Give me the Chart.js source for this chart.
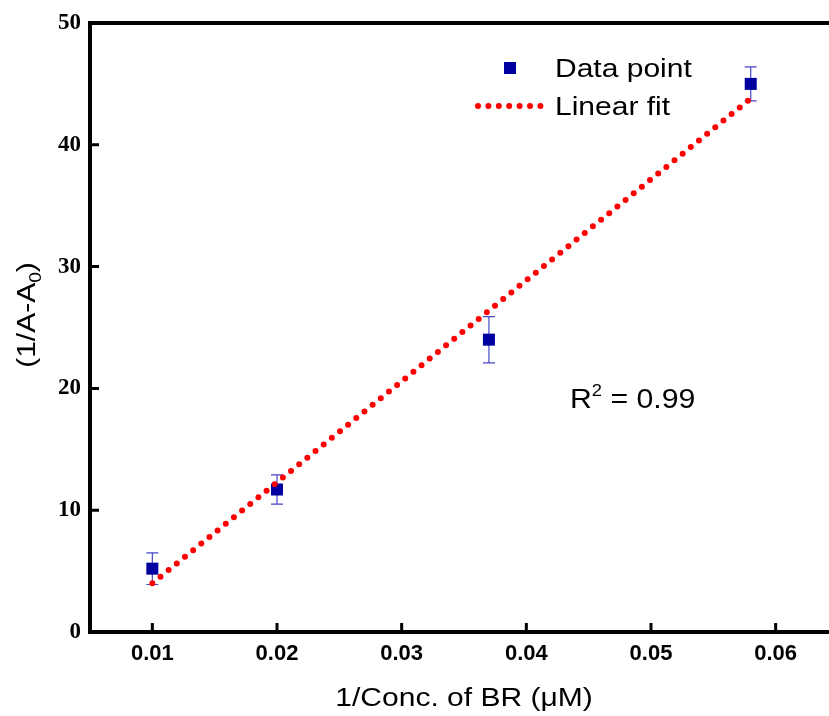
<!DOCTYPE html>
<html>
<head>
<meta charset="utf-8">
<script src="https://cdn.jsdelivr.net/npm/chart.js@4/dist/chart.umd.min.js"></script>
<style>
    html, body { margin: 0; padding: 0; background: #fff; overflow: hidden; }
    #wrap { width: 850px; height: 716px; position: relative; }
</style>
</head>
<body>
<div id="wrap"><canvas id="myChart"></canvas></div>
<script>
// values
const concX = [0.01, 0.02, 0.037, 0.058];
const absY = [5.2, 11.7, 24.0, 45.0];
const errY = [1.3, 1.2, 1.9, 1.4];
const fitX = [0.01, 0.058];
const fitY = [4.0, 43.8];
const xTicks = [0.01, 0.02, 0.03, 0.04, 0.05, 0.06];
const yTicks = [0, 10, 20, 30, 40, 50];

const SANS = '"Liberation Sans", Arial, sans-serif';
const SERIF = '"Liberation Serif", "Times New Roman", serif';

const pointColor = 'rgb(0, 0, 160)';
const errColor = 'rgb(70, 70, 200)';
const fitColor = 'rgb(255, 0, 0)';

function stretchText(ctx, text, x, y, sx, font) {
    ctx.save();
    ctx.font = font;
    ctx.translate(x, y);
    ctx.scale(sx, 1);
    ctx.textAlign = 'left';
    ctx.textBaseline = 'alphabetic';
    ctx.fillText(text, 0, 0);
    const w = ctx.measureText(text).width * sx;
    ctx.restore();
    return w;
}

const errorBars = {
    id: 'errorBars',
    beforeDatasetsDraw(chart) {
        const ctx = chart.ctx;
        const xs = chart.scales.x, ys = chart.scales.y;
        ctx.save();
        ctx.strokeStyle = errColor;
        ctx.lineWidth = 1.2;
        concX.forEach((cx, i) => {
            const px = xs.getPixelForValue(cx);
            const top = ys.getPixelForValue(absY[i] + errY[i]);
            const bot = ys.getPixelForValue(absY[i] - errY[i]);
            ctx.beginPath();
            ctx.moveTo(px, top); ctx.lineTo(px, bot);
            ctx.moveTo(px - 6, top); ctx.lineTo(px + 6, top);
            ctx.moveTo(px - 6, bot); ctx.lineTo(px + 6, bot);
            ctx.stroke();
        });
        ctx.restore();
    }
};

const frameAndText = {
    id: 'frameAndText',
    afterDraw(chart) {
        const ctx = chart.ctx;
        const area = chart.chartArea;
        const xs = chart.scales.x, ys = chart.scales.y;
        ctx.save();
        ctx.strokeStyle = '#000';
        ctx.lineWidth = 4;
        ctx.beginPath();
        ctx.moveTo(area.left - 2, area.top);
        ctx.lineTo(area.right, area.top);
        ctx.lineTo(area.right, area.bottom);
        ctx.stroke();

        // inward ticks
        ctx.lineWidth = 3;
        ctx.beginPath();
        xTicks.forEach((v) => {
            const px = xs.getPixelForValue(v);
            ctx.moveTo(px, area.bottom);
            ctx.lineTo(px, area.bottom - 9);
        });
        yTicks.forEach((v) => {
            const py = ys.getPixelForValue(v);
            ctx.moveTo(area.left, py);
            ctx.lineTo(area.left + 9, py);
        });
        ctx.stroke();

        ctx.fillStyle = '#000';
        // x axis title
        const xTitle = '1/Conc. of BR (\u03BCM)';
        ctx.font = '25px ' + SANS;
        const xw = ctx.measureText(xTitle).width * 1.2;
        stretchText(ctx, xTitle, (area.left + area.right) / 2 - xw / 2, 706, 1.2, '25px ' + SANS);

        // y axis title with subscript
        ctx.save();
        ctx.translate(35, 315);
        ctx.rotate(-Math.PI / 2);
        ctx.font = '25px ' + SANS;
        const p1 = '(1/A-A', p2 = '0', p3 = ')';
        const w1 = ctx.measureText(p1).width * 1.2;
        ctx.font = '16px ' + SANS;
        const w2 = ctx.measureText(p2).width * 1.2;
        ctx.font = '25px ' + SANS;
        const w3 = ctx.measureText(p3).width * 1.2;
        let x0 = -(w1 + w2 + w3) / 2;
        stretchText(ctx, p1, x0, 0, 1.2, '25px ' + SANS);
        stretchText(ctx, p2, x0 + w1, 6, 1.2, '16px ' + SANS);
        stretchText(ctx, p3, x0 + w1 + w2, 0, 1.2, '25px ' + SANS);
        ctx.restore();

        // R^2 label
        let rx = 570;
        rx += stretchText(ctx, 'R', rx, 408, 1.08, '28px ' + SANS);
        rx += stretchText(ctx, '2', rx, 396, 1.08, '17px ' + SANS);
        stretchText(ctx, ' = 0.99', rx, 408, 1.08, '28px ' + SANS);

        // legend
        ctx.fillStyle = pointColor;
        ctx.fillRect(504, 62, 12, 12);
        ctx.strokeStyle = fitColor;
        ctx.lineWidth = 6;
        ctx.lineCap = 'round';
        ctx.setLineDash([0, 10.4]);
        ctx.beginPath();
        ctx.moveTo(478, 106);
        ctx.lineTo(542, 106);
        ctx.stroke();
        ctx.setLineDash([]);
        ctx.fillStyle = '#000';
        stretchText(ctx, 'Data point', 555, 77, 1.2, '25px ' + SANS);
        stretchText(ctx, 'Linear fit', 555, 115, 1.2, '25px ' + SANS);
        ctx.restore();
    }
};

const config = {
    type: 'scatter',
    data: {
        datasets: [{
            label: 'Linear fit',
            data: fitX.map((x, i) => ({ x: x, y: fitY[i] })),
            showLine: true,
            borderColor: fitColor,
            borderWidth: 6,
            borderDash: [0, 10.5],
            borderCapStyle: 'round',
            pointRadius: 0,
            fill: false,
        }, {
            label: 'Data point',
            data: concX.map((x, i) => ({ x: x, y: absY[i] })),
            pointStyle: 'rect',
            pointRadius: 8.5,
            pointHoverRadius: 8.5,
            backgroundColor: pointColor,
            borderColor: pointColor,
            borderWidth: 0,
        }]
    },
    options: {
        responsive: true,
        maintainAspectRatio: false,
        animation: false,
        events: [],
        layout: { padding: { top: 23, right: 12, left: 0, bottom: 0 } },
        plugins: {
            legend: { display: false },
            tooltip: { enabled: false },
        },
        scales: {
            x: {
                type: 'linear',
                min: 0.005,
                max: 0.065,
                afterBuildTicks: (scale) => {
                    scale.ticks = xTicks.map((v) => ({ value: v }));
                },
                afterFit: (scale) => { scale.height = 84; },
                grid: { display: false, drawTicks: false },
                border: { display: true, color: '#000', width: 4 },
                ticks: {
                    padding: 9,
                    color: '#000',
                    font: { family: SANS, size: 22, weight: 'bold' },
                    callback: (v) => Number(v).toFixed(2),
                },
            },
            y: {
                type: 'linear',
                min: 0,
                max: 50,
                afterBuildTicks: (scale) => {
                    scale.ticks = yTicks.map((v) => ({ value: v }));
                },
                afterFit: (scale) => { scale.width = 90; },
                grid: { display: false, drawTicks: false },
                border: { display: true, color: '#000', width: 4 },
                ticks: {
                    padding: 9,
                    color: '#000',
                    font: { family: SERIF, size: 23, weight: 'bold' },
                },
            }
        }
    },
    plugins: [errorBars, frameAndText]
};

const myChart = new Chart(document.getElementById('myChart'), config);
</script>
</body>
</html>
